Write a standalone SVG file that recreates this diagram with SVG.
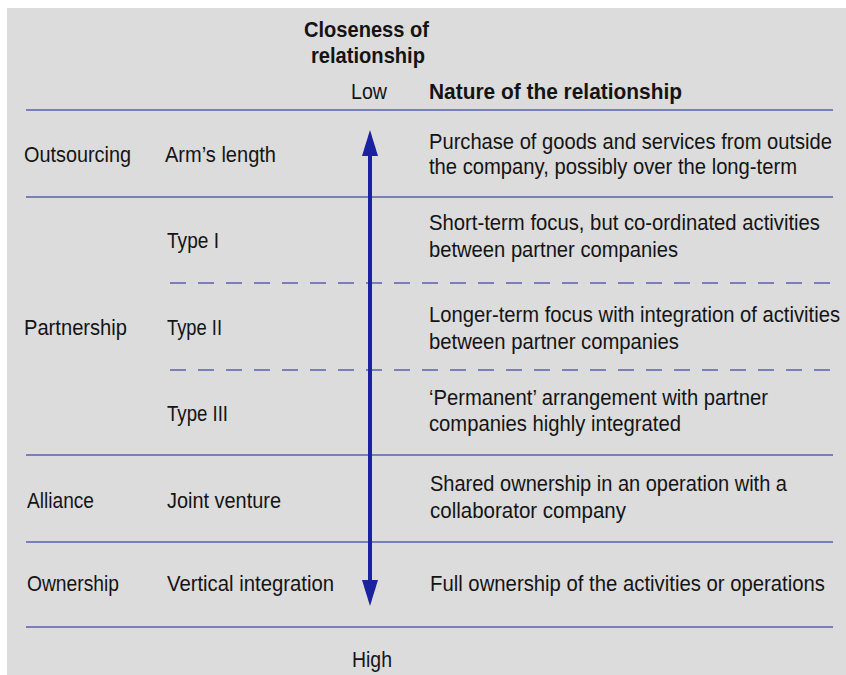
<svg xmlns="http://www.w3.org/2000/svg" width="846" height="675" viewBox="0 0 846 675">
<style>
text{font-family:"Liberation Sans",Arial,sans-serif;font-size:20px;fill:#141414}
.b{font-weight:bold}
.rule{stroke:#5860b0;stroke-width:1.6;fill:none}
.dash{stroke:#5860b0;stroke-width:1.6;stroke-dasharray:16 12;fill:none}
.arrow{stroke:#1a22a0;stroke-width:4;fill:none}
.head{fill:#1a22a0}
</style>
<rect x="7" y="8" width="839" height="667" fill="#dcdcdc"/>
<g id="connectors">
<line class="rule" x1="26" y1="110" x2="833" y2="110"/>
<line class="rule" x1="26" y1="197" x2="833" y2="197"/>
<line class="dash" x1="170" y1="283" x2="830" y2="283"/>
<line class="dash" x1="170" y1="370" x2="830" y2="370"/>
<line class="rule" x1="26" y1="455" x2="833" y2="455"/>
<line class="rule" x1="26" y1="542" x2="833" y2="542"/>
<line class="rule" x1="26" y1="627" x2="833" y2="627"/>
<line class="arrow" x1="370" y1="150" x2="370" y2="586"/>
<polygon class="head" points="370,130 378,156 362,156"/>
<polygon class="head" points="370,606 378,580 362,580"/>
</g>
<g transform="scale(1,1.1)">
<g id="header">
<text class="b" x="304" y="33.64" textLength="125" lengthAdjust="spacingAndGlyphs">Closeness of</text>
<text class="b" x="311" y="57.27" textLength="114" lengthAdjust="spacingAndGlyphs">relationship</text>
<text x="351" y="90" textLength="36" lengthAdjust="spacingAndGlyphs">Low</text>
<text class="b" x="429" y="90" textLength="253" lengthAdjust="spacingAndGlyphs">Nature of the relationship</text>
</g>
<g id="row-outsourcing">
<text x="24" y="147.27" textLength="107" lengthAdjust="spacingAndGlyphs">Outsourcing</text>
<text x="165" y="147.27" textLength="111" lengthAdjust="spacingAndGlyphs">Arm’s length</text>
<text x="429" y="135.45" textLength="403" lengthAdjust="spacingAndGlyphs">Purchase of goods and services from outside</text>
<text x="429" y="158.18" textLength="368" lengthAdjust="spacingAndGlyphs">the company, possibly over the long-term</text>
</g>
<g id="row-type1">
<text x="167" y="225.45" textLength="52" lengthAdjust="spacingAndGlyphs">Type I</text>
<text x="429" y="209.09" textLength="391" lengthAdjust="spacingAndGlyphs">Short-term focus, but co-ordinated activities</text>
<text x="429" y="233.64" textLength="249" lengthAdjust="spacingAndGlyphs">between partner companies</text>
</g>
<g id="row-type2">
<text x="24" y="304.55" textLength="103" lengthAdjust="spacingAndGlyphs">Partnership</text>
<text x="167" y="304.55" textLength="55" lengthAdjust="spacingAndGlyphs">Type II</text>
<text x="429" y="292.73" textLength="411" lengthAdjust="spacingAndGlyphs">Longer-term focus with integration of activities</text>
<text x="429" y="317.27" textLength="250" lengthAdjust="spacingAndGlyphs">between partner companies</text>
</g>
<g id="row-type3">
<text x="167" y="382.73" textLength="61" lengthAdjust="spacingAndGlyphs">Type III</text>
<text x="429" y="368.18" textLength="339" lengthAdjust="spacingAndGlyphs">‘Permanent’ arrangement with partner</text>
<text x="429" y="391.82" textLength="252" lengthAdjust="spacingAndGlyphs">companies highly integrated</text>
</g>
<g id="row-alliance">
<text x="27" y="461.82" textLength="67" lengthAdjust="spacingAndGlyphs">Alliance</text>
<text x="167" y="461.82" textLength="114" lengthAdjust="spacingAndGlyphs">Joint venture</text>
<text x="430" y="446.36" textLength="357" lengthAdjust="spacingAndGlyphs">Shared ownership in an operation with a</text>
<text x="430" y="470.91" textLength="196" lengthAdjust="spacingAndGlyphs">collaborator company</text>
</g>
<g id="row-ownership">
<text x="27" y="537.27" textLength="92" lengthAdjust="spacingAndGlyphs">Ownership</text>
<text x="167" y="537.27" textLength="167" lengthAdjust="spacingAndGlyphs">Vertical integration</text>
<text x="430" y="537.27" textLength="395" lengthAdjust="spacingAndGlyphs">Full ownership of the activities or operations</text>
</g>
<g id="footer">
<text x="352" y="606.36" textLength="40" lengthAdjust="spacingAndGlyphs">High</text>
</g>
</g>
</svg>
